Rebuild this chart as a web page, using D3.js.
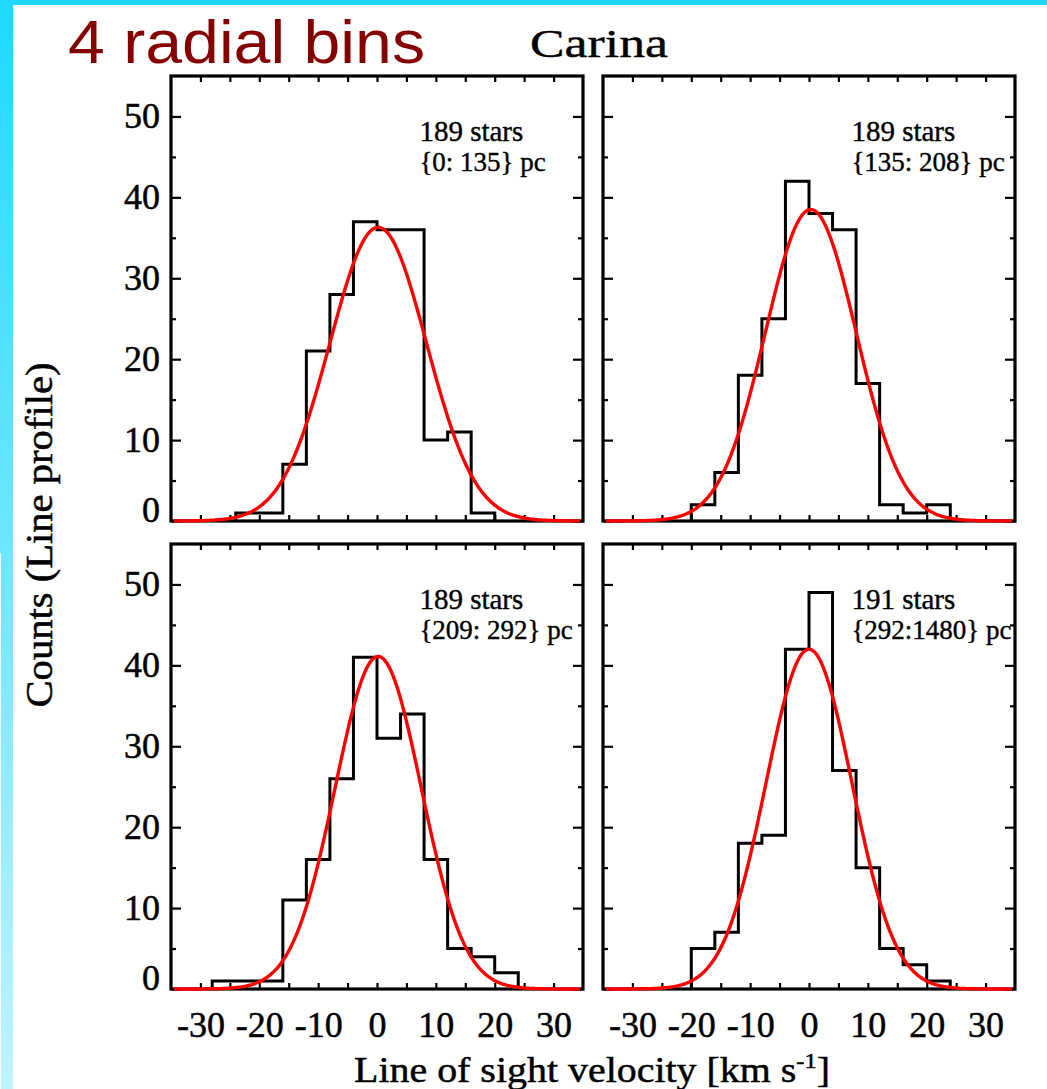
<!DOCTYPE html>
<html>
<head>
<meta charset="utf-8">
<script src="https://cdn.jsdelivr.net/npm/d3@7/dist/d3.min.js"></script>
<style>
body { margin: 0; background: #fff; }
</style>
</head>
<body>
<svg id="chart"></svg>
<script>
// tick values
var velTicks = [-30, -25, -20, -15, -10, -5, 0, 5, 10, 15, 20, 25, 30];
var countMajor = [0, 10, 20, 30, 40, 50];
var countMinor = [5, 15, 25, 35, 45];

// panel texts
var starLabels = ["189 stars", "189 stars", "189 stars", "191 stars"];
var rangeLabels = ["{0: 135} pc", "{135: 208} pc", "{209: 292} pc", "{292:1480} pc"];

// histograms (4 km/s bins), first bin left edge per panel
var binWidth = 4;
var binStart = [-24, -20, -28, -20];
var countsA = [1, 1, 7, 21, 28, 37, 36, 36, 10, 11, 1];
var countsB = [2, 6, 18, 25, 42, 38, 36, 17, 2, 1, 2];
var countsC = [1, 1, 1, 11, 16, 26, 41, 31, 34, 16, 5, 4, 2];
var countsD = [5, 7, 18, 19, 42, 49, 27, 15, 5, 3, 1];
var allCounts = [countsA, countsB, countsC, countsD];

// gaussian fit
var fitMean = [0.2, 0.3, 0.2, 0.0];
var fitSigma = [8.2, 7.7, 7.3, 7.3];
var fitPeak = [36.3, 38.5, 41.1, 42.0];

var width = 1047;
var height = 1089;
var serif = "'Liberation Serif', 'Times New Roman', serif";

var svg = d3.select("#chart")
    .attr("width", width)
    .attr("height", height);

// cyan page frame
var grad = svg.append("defs").append("linearGradient")
    .attr("id", "band")
    .attr("x1", 0).attr("y1", 0).attr("x2", 0).attr("y2", 1);
grad.append("stop").attr("offset", "0%").attr("stop-color", "#1fd8ff");
grad.append("stop").attr("offset", "100%").attr("stop-color", "#c0f3ff");

svg.append("rect")
    .attr("x", 0).attr("y", 0)
    .attr("width", 13).attr("height", height)
    .attr("fill", "url(#band)");
svg.append("rect")
    .attr("x", 0).attr("y", 553)
    .attr("width", 1).attr("height", height - 553)
    .attr("fill", "#f4fdff");
svg.append("rect")
    .attr("x", 0).attr("y", 0)
    .attr("width", width).attr("height", 5)
    .attr("fill", "#1fd8ff");

// titles
svg.append("text")
    .attr("x", 68).attr("y", 63)
    .attr("font-family", "'Liberation Sans', Arial, sans-serif")
    .attr("font-size", 61)
    .attr("textLength", 357)
    .attr("lengthAdjust", "spacingAndGlyphs")
    .attr("fill", "#850000")
    .text("4 radial bins");

svg.append("text")
    .attr("x", 530).attr("y", 57)
    .attr("font-family", serif)
    .attr("font-size", 40)
    .attr("textLength", 138)
    .attr("lengthAdjust", "spacingAndGlyphs")
    .attr("fill", "black")
    .attr("stroke", "black")
    .attr("stroke-width", 0.4)
    .text("Carina");

var panelLeft = [171, 603];
var panelTop = [76, 544];
var panelW = 412;
var panelH = 445;

var drawPanel = function(i)
{
  var col = i % 2;
  var row = Math.floor(i / 2);
  var x0 = panelLeft[col];
  var y0 = panelTop[row];

  var x = d3.scaleLinear().domain([-35, 35]).range([x0, x0 + panelW]);
  var y = d3.scaleLinear().domain([0, 55]).range([y0 + panelH, y0]);

  var g = svg.append("g");

  var tidy = function(sel)
  {
    sel.select(".domain").remove();
    sel.selectAll("line").attr("stroke", "black").attr("stroke-width", 2.2);
    sel.attr("font-family", serif).attr("font-size", 36);
    sel.selectAll("text").attr("fill", "black")
      .attr("stroke", "black").attr("stroke-width", 0.5);
  };

  // x ticks top and bottom
  g.append("g")
    .attr("transform", "translate(0," + y0 + ")")
    .call(d3.axisTop(x).tickValues(velTicks).tickSize(-6).tickFormat(""))
    .call(tidy);

  g.append("g")
    .attr("transform", "translate(0," + (y0 + panelH) + ")")
    .call(d3.axisBottom(x).tickValues(velTicks).tickSize(-6).tickPadding(22)
      .tickFormat(function(d) { return (row == 1 && d % 10 == 0) ? String(d) : ""; }))
    .call(tidy);

  // y ticks left and right
  var left = g.append("g")
    .attr("transform", "translate(" + x0 + ",0)")
    .call(d3.axisLeft(y).tickValues(countMajor).tickSize(-10).tickPadding(11)
      .tickFormat(function(d) { return col == 0 ? String(d) : ""; }))
    .call(tidy);
  left.selectAll(".tick text").filter(function(d) { return d == 0; }).attr("y", -11);

  g.append("g")
    .attr("transform", "translate(" + x0 + ",0)")
    .call(d3.axisLeft(y).tickValues(countMinor).tickSize(-5).tickFormat(""))
    .call(tidy);

  g.append("g")
    .attr("transform", "translate(" + (x0 + panelW) + ",0)")
    .call(d3.axisRight(y).tickValues(countMajor).tickSize(-10).tickFormat(""))
    .call(tidy);

  g.append("g")
    .attr("transform", "translate(" + (x0 + panelW) + ",0)")
    .call(d3.axisRight(y).tickValues(countMinor).tickSize(-5).tickFormat(""))
    .call(tidy);

  // frame
  g.append("rect")
    .attr("x", x0).attr("y", y0)
    .attr("width", panelW).attr("height", panelH)
    .attr("fill", "none")
    .attr("stroke", "black")
    .attr("stroke-width", 3.2);

  // histogram outline
  var counts = allCounts[i];
  var start = binStart[i];
  var pts = [[start, 0]];
  counts.forEach(function(c, j)
  {
    pts.push([start + j * binWidth, c]);
    pts.push([start + (j + 1) * binWidth, c]);
  });
  pts.push([start + counts.length * binWidth, 0]);

  var line = d3.line()
    .x(function(d) { return x(d[0]); })
    .y(function(d) { return y(d[1]); });

  g.append("path")
    .attr("d", line(pts))
    .attr("fill", "none")
    .attr("stroke", "black")
    .attr("stroke-width", 3);

  // gaussian fit
  var curve = d3.range(-34.5, 34.51, 0.25).map(function(v)
  {
    var z = (v - fitMean[i]) / fitSigma[i];
    return [v, fitPeak[i] * Math.exp(-0.5 * z * z)];
  });

  g.append("path")
    .attr("d", line(curve))
    .attr("fill", "none")
    .attr("stroke", "#ff0000")
    .attr("stroke-width", 3.4);

  // labels
  g.append("text")
    .attr("x", x(7.2)).attr("y", y(47))
    .attr("font-family", serif)
    .attr("font-size", 29)
    .attr("fill", "black")
    .attr("stroke", "black")
    .attr("stroke-width", 0.4)
    .text(starLabels[i]);

  g.append("text")
    .attr("x", x(7.2)).attr("y", y(43.2))
    .attr("font-family", serif)
    .attr("font-size", 27)
    .attr("fill", "black")
    .attr("stroke", "black")
    .attr("stroke-width", 0.4)
    .text(rangeLabels[i]);
};

for (var i = 0; i < 4; i++) drawPanel(i);

// axis titles
svg.append("text")
    .attr("transform", "translate(52,535) rotate(-90)")
    .attr("text-anchor", "middle")
    .attr("font-family", serif)
    .attr("font-size", 37)
    .attr("textLength", 345)
    .attr("lengthAdjust", "spacingAndGlyphs")
    .attr("fill", "black")
    .attr("stroke", "black")
    .attr("stroke-width", 0.5)
    .text("Counts (Line profile)");

var xt = svg.append("text")
    .attr("x", 354).attr("y", 1082)
    .attr("font-family", serif)
    .attr("font-size", 36)
    .attr("textLength", 476)
    .attr("lengthAdjust", "spacingAndGlyphs")
    .attr("fill", "black")
    .attr("stroke", "black")
    .attr("stroke-width", 0.5);
xt.append("tspan").text("Line of sight velocity [km s");
xt.append("tspan").attr("font-size", 22).attr("dy", -14).text("-1");
xt.append("tspan").attr("dy", 14).text("]");
</script>
</body>
</html>
